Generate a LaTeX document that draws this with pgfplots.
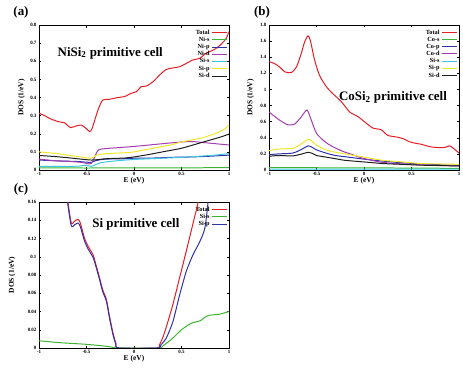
\documentclass[border=0pt]{standalone}
\usepackage{fontspec}
\setmainfont{Liberation Serif}
\usepackage{pgfplots}
\pgfplotsset{compat=1.18}
\definecolor{cRed}{RGB}{228,30,36}
\definecolor{cGreen}{RGB}{60,180,50}
\definecolor{cBlue}{RGB}{45,50,170}
\definecolor{cPurple}{RGB}{165,60,175}
\definecolor{cCyan}{RGB}{60,200,225}
\definecolor{cYellow}{RGB}{240,230,40}
\definecolor{cBlack}{RGB}{30,30,30}
\pgfplotsset{
  dosaxis/.style={
    scale only axis, width=190bp, anchor=south west,
    xmin=-1, xmax=1, ymin=0,
    xtick={-1,-0.5,0,0.5,1},
    xticklabels={-1,-0.5,0,0.5,1},
    tick align=inside, tick pos=both,
    major tick length=2.5bp,
    axis line style={line width=0.6pt},
    tick style={line width=0.5pt,black},
    tick label style={font=\fontsize{5}{5}\selectfont\bfseries},
    /pgf/number format/assume math mode=true,
    scaled y ticks=false,
    yticklabel style={/pgf/number format/fixed, xshift=1bp},
    xticklabel style={yshift=1bp},
    label style={font=\fontsize{7.5}{8}\selectfont\bfseries},
    xlabel={E (eV)},
    xlabel style={yshift=5bp},
    ylabel={DOS (1/eV)},
    every axis plot/.append style={line width=1pt, mark=none, smooth, tension=0.4},
    legend plot pos=right,
    legend cell align=right,
    legend style={draw=none, fill=none, font=\fontsize{6.3}{6.5}\selectfont\bfseries,
      at={(0.995,0.985)}, anchor=north east, row sep=-2.6bp, inner sep=0.3bp},
    legend image code/.code={\draw[#1, line width=1pt] (0bp,0bp) -- (15bp,0bp);},
  }
}
\begin{document}
\begin{tikzpicture}
\path[use as bounding box] (0,0) rectangle (463bp,370bp);
% panel labels
\node[font=\fontsize{13}{13}\selectfont\bfseries] at (21bp,358bp) {(a)};
\node[font=\fontsize{13}{13}\selectfont\bfseries] at (262bp,358bp) {(b)};
\node[font=\fontsize{13}{13}\selectfont\bfseries] at (21bp,181bp) {(c)};
% ---------- (a) ----------
\begin{axis}[dosaxis, at={(39bp,200bp)}, height=145bp, ymax=0.8,
  ytick={0,0.1,0.2,0.3,0.4,0.5,0.6,0.7,0.8},
  yticklabels={0,0.1,0.2,0.3,0.4,0.5,0.6,0.7,0.8},
  ylabel style={at={(axis description cs:-0.055,0.5)}}]
\addplot[cRed] coordinates {(-1,0.313)(-0.94,0.30)(-0.89,0.285)(-0.8,0.267)(-0.73,0.26)(-0.67,0.234)(-0.61,0.243)(-0.555,0.248)(-0.51,0.232)(-0.467,0.212)(-0.44,0.23)(-0.38,0.33)(-0.33,0.386)(-0.26,0.39)(-0.17,0.40)(-0.1,0.405)(-0.03,0.423)(0.025,0.432)(0.077,0.46)(0.13,0.463)(0.2,0.487)(0.27,0.524)(0.34,0.555)(0.41,0.563)(0.48,0.57)(0.55,0.588)(0.62,0.607)(0.69,0.616)(0.76,0.644)(0.85,0.666)(0.92,0.695)(0.97,0.726)(1,0.763)};
\addlegendentry{Total}
\addplot[cGreen] coordinates {(-1,0.012)(-0.5,0.011)(0,0.012)(0.5,0.012)(1,0.013)};
\addlegendentry{Ni-s}
\addplot[cBlue] coordinates {(-1,0.055)(-0.8,0.05)(-0.6,0.047)(-0.45,0.042)(-0.4,0.052)(-0.3,0.06)(-0.1,0.062)(0,0.065)(0.2,0.066)(0.4,0.07)(0.6,0.072)(0.8,0.076)(1,0.082)};
\addlegendentry{Ni-p}
\addplot[cPurple] coordinates {(-1,0.06)(-0.85,0.052)(-0.7,0.048)(-0.55,0.042)(-0.45,0.036)(-0.38,0.108)(-0.3,0.118)(-0.2,0.122)(0,0.13)(0.2,0.14)(0.4,0.15)(0.6,0.157)(0.8,0.148)(1,0.138)};
\addlegendentry{Ni-d}
\addplot[cCyan] coordinates {(-1,0.02)(-0.8,0.02)(-0.6,0.021)(-0.5,0.026)(-0.45,0.02)(-0.35,0.04)(-0.2,0.05)(0,0.058)(0.3,0.065)(0.5,0.07)(0.8,0.08)(1,0.09)};
\addlegendentry{Si-s}
\addplot[cYellow] coordinates {(-1,0.10)(-0.8,0.09)(-0.6,0.075)(-0.45,0.065)(-0.4,0.08)(-0.3,0.09)(-0.1,0.095)(0,0.10)(0.2,0.12)(0.4,0.14)(0.5,0.155)(0.7,0.175)(0.85,0.20)(0.95,0.225)(1,0.248)};
\addlegendentry{Si-p}
\addplot[cBlack] coordinates {(-1,0.08)(-0.85,0.075)(-0.7,0.068)(-0.45,0.055)(-0.3,0.062)(-0.1,0.066)(0,0.072)(0.15,0.085)(0.3,0.10)(0.5,0.12)(0.7,0.15)(0.9,0.18)(1,0.198)};
\addlegendentry{Si-d}
\node[font=\fontsize{13}{13}\selectfont\bfseries] at (axis cs:-0.25,0.646) {NiSi$_\mathbf{2}$ primitive cell};
\end{axis}
% ---------- (b) ----------
\begin{axis}[dosaxis, at={(269bp,200bp)}, height=145bp, ymax=1.8,
  ytick={0,0.2,0.4,0.6,0.8,1,1.2,1.4,1.6,1.8},
  yticklabels={0,0.2,0.4,0.6,0.8,1,1.2,1.4,1.6,1.8},
  ylabel style={at={(axis description cs:-0.06,0.5)}}]
\addplot[cRed] coordinates {(-1,1.345)(-0.94,1.32)(-0.89,1.28)(-0.835,1.22)(-0.765,1.21)(-0.71,1.28)(-0.66,1.45)(-0.625,1.59)(-0.59,1.665)(-0.565,1.61)(-0.52,1.365)(-0.47,1.18)(-0.4,1.04)(-0.33,0.95)(-0.24,0.85)(-0.15,0.72)(-0.06,0.66)(0.025,0.58)(0.095,0.52)(0.18,0.50)(0.25,0.43)(0.34,0.41)(0.41,0.39)(0.48,0.35)(0.55,0.33)(0.6,0.32)(0.69,0.29)(0.76,0.28)(0.85,0.28)(0.9,0.30)(0.94,0.27)(1,0.21)};
\addlegendentry{Total}
\addplot[cGreen] coordinates {(-1,0.03)(-0.5,0.028)(0,0.026)(0.5,0.024)(1,0.02)};
\addlegendentry{Co-s}
\addplot[cBlue] coordinates {(-1,0.19)(-0.9,0.20)(-0.75,0.21)(-0.65,0.26)(-0.59,0.30)(-0.55,0.285)(-0.5,0.25)(-0.4,0.21)(-0.3,0.18)(-0.2,0.165)(0,0.135)(0.2,0.11)(0.4,0.09)(0.6,0.075)(0.8,0.065)(1,0.055)};
\addlegendentry{Co-p}
\addplot[cPurple] coordinates {(-1,0.72)(-0.89,0.62)(-0.8,0.56)(-0.73,0.57)(-0.66,0.66)(-0.6,0.745)(-0.555,0.62)(-0.5,0.455)(-0.41,0.35)(-0.33,0.29)(-0.22,0.23)(-0.12,0.19)(-0.01,0.145)(0.165,0.10)(0.34,0.08)(0.69,0.06)(1,0.05)};
\addlegendentry{Co-d}
\addplot[cCyan] coordinates {(-1,0.012)(-0.5,0.012)(0,0.011)(0.5,0.011)(1,0.01)};
\addlegendentry{Si-s}
\addplot[cYellow] coordinates {(-1,0.24)(-0.9,0.26)(-0.75,0.27)(-0.65,0.33)(-0.59,0.38)(-0.55,0.36)(-0.5,0.31)(-0.4,0.25)(-0.3,0.22)(-0.2,0.20)(0,0.16)(0.2,0.12)(0.4,0.10)(0.6,0.08)(0.8,0.075)(1,0.07)};
\addlegendentry{Si-p}
\addplot[cBlack] coordinates {(-1,0.17)(-0.9,0.18)(-0.75,0.175)(-0.65,0.20)(-0.59,0.22)(-0.55,0.21)(-0.5,0.18)(-0.4,0.16)(-0.3,0.14)(-0.2,0.12)(0,0.10)(0.2,0.08)(0.4,0.07)(0.6,0.06)(0.8,0.055)(1,0.05)};
\addlegendentry{Si-d}
\node[font=\fontsize{13}{13}\selectfont\bfseries] at (axis cs:0.305,0.906) {CoSi$_\mathbf{2}$ primitive cell};
\end{axis}
% ---------- (c) ----------
\begin{axis}[dosaxis, at={(39bp,22bp)}, height=146bp, ymax=0.16,
  ytick={0,0.02,0.04,0.06,0.08,0.1,0.12,0.14,0.16},
  yticklabels={0,0.02,0.04,0.06,0.08,0.1,0.12,0.14,0.16},
  ylabel style={at={(axis description cs:-0.105,0.5)}}]
\addplot[cRed] coordinates {(-0.74,0.20)(-0.695,0.16)(-0.66,0.137)(-0.625,0.139)(-0.59,0.141)(-0.565,0.137)(-0.52,0.12)(-0.48,0.111)(-0.43,0.102)(-0.4,0.091)(-0.36,0.076)(-0.33,0.064)(-0.29,0.053)(-0.26,0.036)(-0.22,0.016)(-0.19,0.005)(-0.16,0)(0.235,0)(0.27,0.004)(0.305,0.012)(0.34,0.023)(0.41,0.048)(0.48,0.077)(0.55,0.106)(0.62,0.136)(0.675,0.16)(0.72,0.19)};
\addlegendentry{Total}
\addplot[cGreen] coordinates {(-1,0.008)(-0.8,0.006)(-0.5,0.004)(-0.3,0.002)(-0.2,0.0003)(-0.15,0)(0.26,0)(0.3,0.002)(0.4,0.01)(0.5,0.02)(0.6,0.027)(0.7,0.03)(0.75,0.034)(0.8,0.036)(0.9,0.037)(1,0.04)};
\addlegendentry{Si-s}
\addplot[cBlue] coordinates {(-0.745,0.20)(-0.7,0.16)(-0.66,0.134)(-0.625,0.135)(-0.59,0.137)(-0.565,0.133)(-0.52,0.117)(-0.48,0.108)(-0.43,0.099)(-0.4,0.089)(-0.36,0.074)(-0.33,0.062)(-0.29,0.051)(-0.26,0.034)(-0.22,0.014)(-0.19,0.004)(-0.16,0)(0.245,0)(0.28,0.003)(0.34,0.011)(0.41,0.029)(0.48,0.058)(0.55,0.084)(0.62,0.102)(0.69,0.116)(0.745,0.131)(0.78,0.16)(0.8,0.19)};
\addlegendentry{Si-p}
\node[font=\fontsize{13}{13}\selectfont\bfseries] at (axis cs:0.02,0.136) {Si primitive cell};
\end{axis}
\end{tikzpicture}
\end{document}
